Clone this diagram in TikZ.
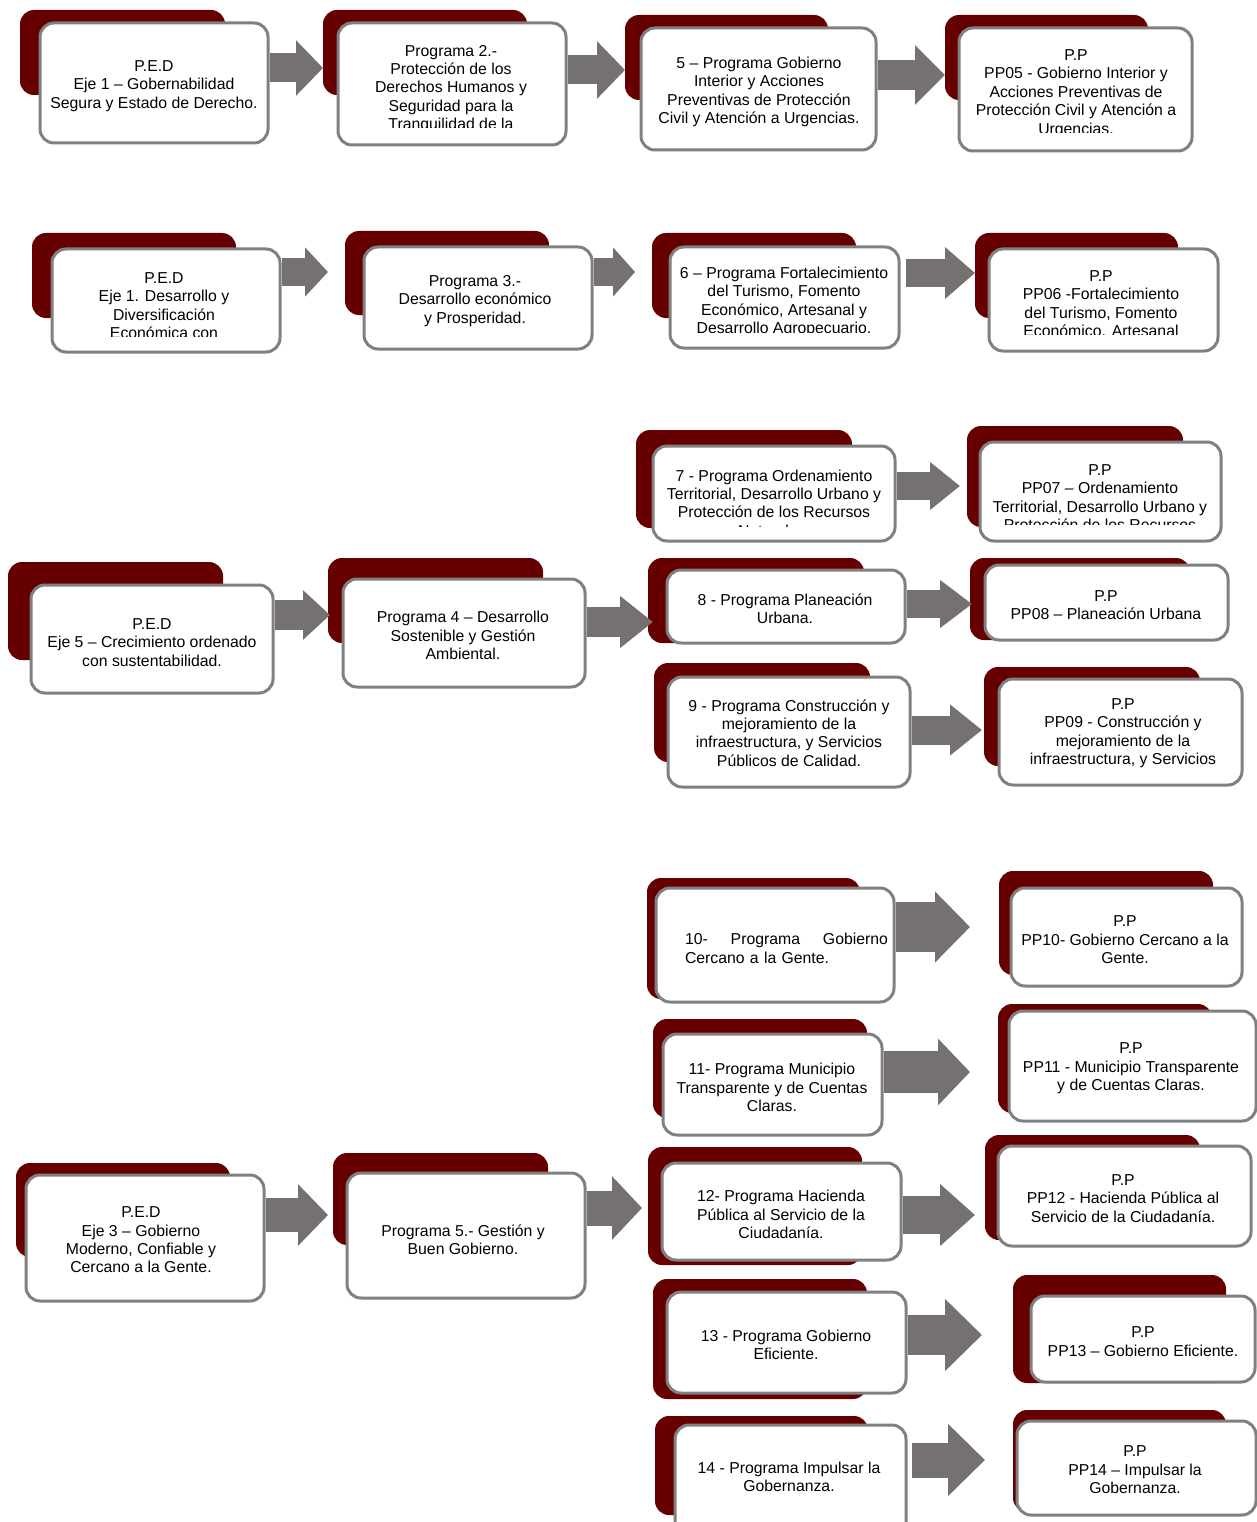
\documentclass[tikz,border=0pt]{standalone}
\usepackage{fontspec}
\setmainfont{Liberation Sans}
\usetikzlibrary{arrows.meta}
\definecolor{vino}{HTML}{660000}
\definecolor{borde}{HTML}{808080}
\definecolor{flechagris}{HTML}{767171}
\tikzset{
  sombra/.style={fill=vino,rounded corners=14pt,inner sep=0,outer sep=0},
  caja/.style={draw=borde,fill=white,line width=3pt,rounded corners=14pt,inner sep=0},
  texto/.style={font=\fontsize{15.8}{18.4}\selectfont,align=center,inner sep=0,yshift=-2.5pt},
  flecha/.style n args={3}{draw=flechagris,line width=#1,-{Triangle[length=#2 0,width=#3 0]}}
}
\begin{document}
\begin{tikzpicture}[x=1pt,y=-1pt]
\useasboundingbox (0,0) rectangle (1257,1522);

\node[sombra,minimum width=205,minimum height=85] (ped1s) at (122.5,52.5) {};
\node[caja,minimum width=228,minimum height=120] (ped1) at (154,83) {};
\node[texto] (ped1t) at (154,83.5) {P.E.D\\Eje 1 – Gobernabilidad\\Segura y Estado de Derecho.};
\node[sombra,minimum width=204,minimum height=85] (p2s) at (425,52.5) {};
\node[caja,minimum width=228,minimum height=122] (p2) at (452,84) {};
\begin{scope}
\clip (338,23) rectangle (566,128);
\node[texto] (p2t) at (451,86.5) {Programa 2.-\\Protección de los\\Derechos Humanos y\\Seguridad para la\\Tranquilidad de la};
\end{scope}
\node[sombra,minimum width=203,minimum height=85] (p5s) at (726.5,57.5) {};
\node[caja,minimum width=235,minimum height=122] (p5) at (758.5,89) {};
\node[texto] (p5t) at (759,89.5) {5 – Programa Gobierno\\Interior y Acciones\\Preventivas de Protección\\Civil y Atención a Urgencias.};
\node[sombra,minimum width=203,minimum height=85] (pp05s) at (1046.5,57.5) {};
\node[caja,minimum width=233,minimum height=123] (pp05) at (1075.5,89.5) {};
\begin{scope}
\clip (959,28) rectangle (1192,133);
\node[texto] (pp05t) at (1076,91) {P.P\\PP05 - Gobierno Interior y\\Acciones Preventivas de\\Protección Civil y Atención a\\Urgencias.};
\end{scope}

\node[sombra,minimum width=204,minimum height=85] (ped2s) at (134,275.5) {};
\node[caja,minimum width=228,minimum height=103] (ped2) at (166,300.5) {};
\begin{scope}
\clip (52,249) rectangle (280,336);
\node[texto] (ped2t) at (164,303) {P.E.D\\Eje 1. Desarrollo y\\Diversificación\\Económica con};
\end{scope}
\node[sombra,minimum width=204,minimum height=84] (p3s) at (447,273) {};
\node[caja,minimum width=228,minimum height=102] (p3) at (478,298) {};
\node[texto] (p3t) at (475,298.5) {Programa 3.-\\Desarrollo económico\\y Prosperidad.};
\node[sombra,minimum width=204,minimum height=85] (p6s) at (754,275.5) {};
\node[caja,minimum width=229,minimum height=101] (p6) at (784.5,297.5) {};
\begin{scope}
\clip (670,247) rectangle (899,332);
\node[texto] (p6t) at (784,299.5) {6 – Programa Fortalecimiento\\del Turismo, Fomento\\Económico, Artesanal y\\Desarrollo Agropecuario.};
\end{scope}
\node[sombra,minimum width=203,minimum height=85] (pp06s) at (1076.5,275.5) {};
\node[caja,minimum width=229,minimum height=102] (pp06) at (1103.5,300) {};
\begin{scope}
\clip (989,249) rectangle (1218,334);
\node[texto] (pp06t) at (1101,301) {P.P\\PP06 -Fortalecimiento\\del Turismo, Fomento\\Económico. Artesanal};
\end{scope}

\node[sombra,minimum width=215,minimum height=98] (ped5s) at (115.5,611) {};
\node[caja,minimum width=242,minimum height=108] (ped5) at (152,639) {};
\node[texto] (ped5t) at (152,640) {P.E.D\\Eje 5 – Crecimiento ordenado\\con sustentabilidad.};
\node[sombra,minimum width=215,minimum height=85] (p4s) at (435.5,600.5) {};
\node[caja,minimum width=242,minimum height=108] (p4) at (464,633) {};
\node[texto] (p4t) at (463,633) {Programa 4 – Desarrollo\\Sostenible y Gestión\\Ambiental.};
\node[sombra,minimum width=216,minimum height=98] (p7s) at (744,479) {};
\node[caja,minimum width=242,minimum height=95] (p7) at (774,493.5) {};
\begin{scope}
\clip (653,446) rectangle (895,526);
\node[texto] (p7t) at (774,500.5) {7 - Programa Ordenamiento\\Territorial, Desarrollo Urbano y\\Protección de los Recursos\\Naturales.};
\end{scope}
\node[sombra,minimum width=216,minimum height=101] (pp07s) at (1075,476.5) {};
\node[caja,minimum width=241,minimum height=99] (pp07) at (1100.5,491.5) {};
\begin{scope}
\clip (980,442) rectangle (1221,524);
\node[texto] (pp07t) at (1100,495) {P.P\\PP07 –  Ordenamiento\\Territorial, Desarrollo Urbano y\\Protección de los Recursos};
\end{scope}
\node[sombra,minimum width=216,minimum height=85] (p8s) at (756,600.5) {};
\node[caja,minimum width=238,minimum height=73] (p8) at (786,606.5) {};
\node[texto] (p8t) at (785,606.5) {8 - Programa Planeación\\Urbana.};
\node[sombra,minimum width=220,minimum height=82] (pp08s) at (1080,599) {};
\node[caja,minimum width=243,minimum height=75] (pp08) at (1106.5,602.5) {};
\node[texto] (pp08t) at (1106,602.5) {P.P\\PP08 – Planeación Urbana};
\node[sombra,minimum width=216,minimum height=99] (p9s) at (762,712.5) {};
\node[caja,minimum width=242,minimum height=110] (p9) at (789,732) {};
\node[texto] (p9t) at (789,730.5) {9 - Programa Construcción y\\mejoramiento de la\\infraestructura, y Servicios\\Públicos de Calidad.};
\node[sombra,minimum width=216,minimum height=99] (pp09s) at (1092,716.5) {};
\node[caja,minimum width=243,minimum height=106] (pp09) at (1120.5,732) {};
\node[texto] (pp09t) at (1123,730.5) {P.P\\PP09 - Construcción y\\mejoramiento de la\\infraestructura, y Servicios};

\node[sombra,minimum width=214,minimum height=94] (ped3s) at (123,1210) {};
\node[caja,minimum width=238,minimum height=126] (ped3) at (145,1238) {};
\node[texto] (ped3t) at (141,1237.5) {P.E.D\\Eje 3 – Gobierno\\Moderno, Confiable y\\Cercano a la Gente.};
\node[sombra,minimum width=215,minimum height=92] (p5bs) at (440.5,1199) {};
\node[caja,minimum width=238,minimum height=125] (p5b) at (466,1235.5) {};
\node[texto] (p5bt) at (463,1237) {Programa 5.- Gestión y\\Buen Gobierno.};
\node[sombra,minimum width=213,minimum height=121] (p10s) at (753.5,938.5) {};
\node[caja,minimum width=238,minimum height=114] (p10) at (775,945) {};
\node[texto,text width=203,align=left] (p10t) at (786.5,946) {10-\hfill Programa\hfill Gobierno\\Cercano a la Gente.};
\node[sombra,minimum width=214,minimum height=104] (pp10s) at (1106,923) {};
\node[caja,minimum width=231,minimum height=98] (pp10) at (1126.5,937) {};
\node[texto] (pp10t) at (1125,937.5) {P.P\\PP10- Gobierno Cercano a la\\Gente.};
\node[sombra,minimum width=214,minimum height=99] (p11s) at (760,1068.5) {};
\node[caja,minimum width=219,minimum height=101] (p11) at (772.5,1084.5) {};
\node[texto] (p11t) at (772,1085) {11- Programa Municipio\\Transparente y de Cuentas\\Claras.};
\node[sombra,minimum width=214,minimum height=109] (pp11s) at (1105,1058.5) {};
\node[caja,minimum width=247,minimum height=110] (pp11) at (1132.5,1066) {};
\node[texto] (pp11t) at (1131,1066) {P.P\\PP11 - Municipio Transparente\\y de Cuentas Claras.};
\node[sombra,minimum width=214,minimum height=118] (p12s) at (755,1206) {};
\node[caja,minimum width=239,minimum height=97] (p12) at (781.5,1211.5) {};
\node[texto] (p12t) at (781,1212) {12- Programa Hacienda\\Pública al Servicio de la\\Ciudadanía.};
\node[sombra,minimum width=215,minimum height=105] (pp12s) at (1092.5,1187.5) {};
\node[caja,minimum width=253,minimum height=100] (pp12) at (1124.5,1196) {};
\node[texto] (pp12t) at (1123,1196) {P.P\\PP12 - Hacienda Pública al\\Servicio de la Ciudadanía.};
\node[sombra,minimum width=214,minimum height=120] (p13s) at (760,1339) {};
\node[caja,minimum width=239,minimum height=101] (p13) at (786.5,1342.5) {};
\node[texto] (p13t) at (786,1342.5) {13 - Programa Gobierno\\Eficiente.};
\node[sombra,minimum width=213,minimum height=108] (pp13s) at (1119.5,1329) {};
\node[caja,minimum width=224,minimum height=86] (pp13) at (1143,1339) {};
\node[texto] (pp13t) at (1143,1339) {P.P\\PP13 – Gobierno Eficiente.};
\node[sombra,minimum width=213,minimum height=99] (p14s) at (761.5,1465.5) {};
\node[caja,minimum width=231,minimum height=115] (p14) at (790.5,1482.5) {};
\node[texto] (p14t) at (789,1474.5) {14 - Programa Impulsar la\\Gobernanza.};
\node[sombra,minimum width=213,minimum height=102] (pp14s) at (1119.5,1461) {};
\node[caja,minimum width=239,minimum height=94] (pp14) at (1136.5,1468) {};
\node[texto] (pp14t) at (1135,1467.5) {P.P\\PP14 – Impulsar la\\Gobernanza.};

\draw[flecha={29pt}{27pt}{54pt}] (ped1.east |- 0,68) -- (p2s.west |- 0,68);
\draw[flecha={29pt}{28pt}{56pt}] (p2.east |- 0,70) -- (p5s.west |- 0,70);
\draw[flecha={30pt}{30pt}{58pt}] (p5.east |- 0,75) -- (pp05s.west |- 0,75);
\draw[flecha={28pt}{23pt}{48pt},shorten >=17pt] (ped2.east |- 0,272) -- (p3s.west |- 0,272);
\draw[flecha={28pt}{22pt}{48pt},shorten >=17pt] (p3.east |- 0,272) -- (p6s.west |- 0,272);
\draw[flecha={28pt}{30pt}{50pt},shorten <=5pt] (p6.east |- 0,273) -- (pp06s.west |- 0,273);
\draw[flecha={30pt}{27pt}{48pt},shorten >=-2pt] (ped5.east |- 0,615) -- (p4s.west |- 0,615);
\draw[flecha={30pt}{33pt}{50pt},shorten >=-5pt] (p4.east |- 0,622) -- (p8s.west |- 0,622);
\draw[flecha={28pt}{30pt}{46pt},shorten >=7pt] (p7.east |- 0,486) -- (pp07s.west |- 0,486);
\draw[flecha={28pt}{32pt}{46pt},shorten >=-2pt] (p8.east |- 0,604) -- (pp08s.west |- 0,604);
\draw[flecha={29pt}{32pt}{49pt},shorten >=2pt] (p9.east |- 0,730) -- (pp09s.west |- 0,730);
\draw[flecha={34pt}{30pt}{60pt},shorten >=5pt] (ped3.east |- 0,1215) -- (p5bs.west |- 0,1215);
\draw[flecha={35pt}{30pt}{62pt},shorten >=6pt] (p5b.east |- 0,1208) -- (p12s.west |- 0,1208);
\draw[flecha={50pt}{35pt}{69pt},shorten >=29pt] (p10.east |- 0,927) -- (pp10s.west |- 0,927);
\draw[flecha={42pt}{32pt}{65pt},shorten >=28pt] (p11.east |- 0,1072) -- (pp11s.west |- 0,1072);
\draw[flecha={38pt}{35pt}{60pt},shorten >=10pt] (p12.east |- 0,1215) -- (pp12s.west |- 0,1215);
\draw[flecha={40pt}{37pt}{70pt},shorten >=31pt] (p13.east |- 0,1335) -- (pp13s.west |- 0,1335);
\draw[flecha={35pt}{37pt}{70pt},shorten <=4pt,shorten >=28pt] (p14.east |- 0,1460) -- (pp14s.west |- 0,1460);
\end{tikzpicture}
\end{document}
